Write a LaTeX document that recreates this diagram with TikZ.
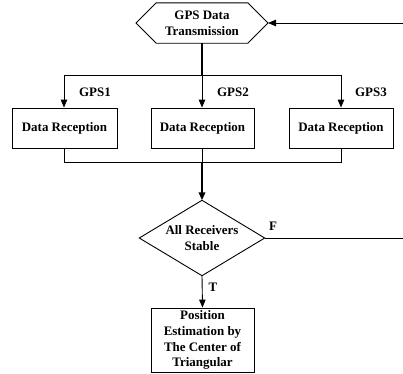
\documentclass[tikz,border=0pt]{standalone}
\usepackage{fontspec}
\setmainfont{Liberation Serif}
\usetikzlibrary{arrows.meta}
\begin{document}
\begin{tikzpicture}[x=1bp,y=-1bp,
  txt/.style={font=\fontsize{13}{16}\selectfont\bfseries},
  box/.style={draw,line width=0.9bp,txt,inner sep=0pt,align=center},
  thin/.style={line width=0.9bp},
  thick/.style={line width=1.8bp},
  arr/.style={-{Triangle[length=8bp,width=6.5bp]}},
  lbl/.style={txt}]
\useasboundingbox (0,0) rectangle (403,374);
% hexagon
\node[txt,align=center,inner sep=0pt,minimum width=91bp,minimum height=40bp] (hex) at (202,23) {GPS Data\\Transmission};
\draw[thin] (136,23) -- (hex.north west) -- (hex.north east) -- (268,23) -- (hex.south east) -- (hex.south west) -- cycle;
\coordinate (hexE) at (268,23);
\coordinate (r1) at (403,23);
\coordinate (j1) at (202,75);
\coordinate (j1l) at (64,75);
\coordinate (j1r) at (341,75);
% boxes
\node[box,minimum width=105bp,minimum height=40bp] (b1) at (64.5,128) {Data Reception};
\node[box,minimum width=103bp,minimum height=40bp] (b2) at (202.5,128) {Data Reception};
\node[box,minimum width=104bp,minimum height=40bp] (b3) at (341,128) {Data Reception};
\coordinate (j2) at (202,162);
\coordinate (j2l) at (64,162);
\coordinate (j2r) at (341,162);
% diamond
\node[txt,align=center,inner sep=0pt,minimum width=125bp,minimum height=75bp] (dec) at (202,238) {All Receivers\\Stable};
\draw[thin] (dec.north) -- (dec.east) -- (dec.south) -- (dec.west) -- cycle;
\coordinate (r2) at (403,238);
% final box
\node[box,minimum width=103bp,minimum height=64bp] (fin) at (202.5,340) {Position\\Estimation by\\The Center of\\Triangular};
% connectors
\draw[thin,arr] (r1) -- (hexE);
\draw[thick] (hex.south) -- (j1);
\draw[thin] (j1l) -- (j1r);
\draw[thin,arr] (j1l) -- (b1.north -| j1l);
\draw[thin,arr] (j1) -- (b2.north -| j1);
\draw[thin,arr] (j1r) -- (b3.north -| j1r);
\draw[thin] (b1.south -| j2l) -- (j2l) -- (j2r) -- (b3.south -| j2r);
\draw[thin] (b2.south -| j2) -- (j2);
\draw[thick,arr] (j2) -- (dec.north);
\draw[thin] (dec.east) -- (r2);
\draw[thin,arr] (dec.south) -- (fin.north);
% labels
\node[lbl] (l1) at (95,92) {GPS1};
\node[lbl] (l2) at (233,92) {GPS2};
\node[lbl] (l3) at (371,92) {GPS3};
\node[lbl] (lf) at (273,226) {F};
\node[lbl] (lt) at (213,287) {T};
\end{tikzpicture}
\end{document}
